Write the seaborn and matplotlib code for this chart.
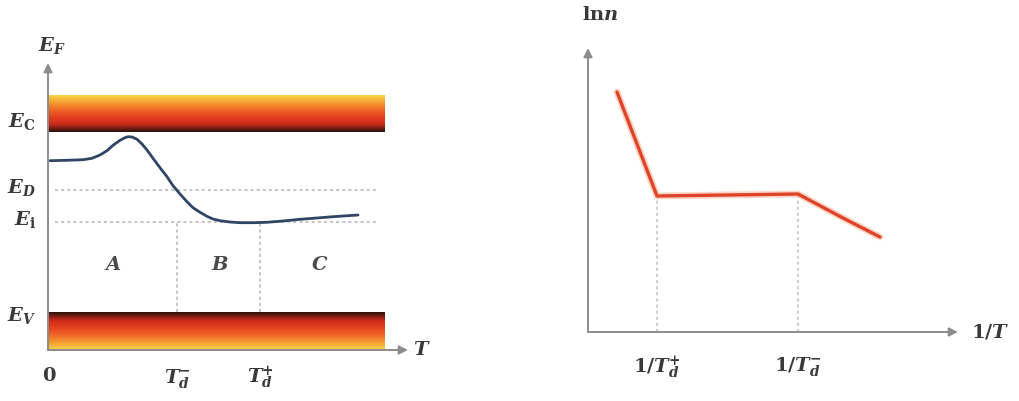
import numpy as np
import matplotlib.pyplot as plt
import seaborn as sns
from matplotlib.colors import LinearSegmentedColormap

# --- data (left: Fermi level vs T, right: ln n vs 1/T) ---
T_curve = [0.02, 0.19, 0.35, 0.44, 0.52, 0.59, 0.65, 0.72, 0.77, 0.80, 0.84, 0.89,
           0.94, 0.99, 1.05, 1.12, 1.19, 1.25, 1.32, 1.39, 1.45, 1.52, 1.59, 1.65,
           1.72, 1.82, 1.92, 2.05, 2.19, 2.35, 2.52, 2.69, 2.85, 3.10]
EF_curve = [1.893, 1.897, 1.903, 1.917, 1.950, 1.993, 2.047, 2.097, 2.123, 2.133,
            2.130, 2.107, 2.060, 2.000, 1.917, 1.823, 1.733, 1.643, 1.560, 1.483,
            1.423, 1.377, 1.337, 1.310, 1.293, 1.280, 1.273, 1.273, 1.277, 1.290,
            1.307, 1.320, 1.333, 1.350]
E_levels = {'E_C': 2.18, 'E_D': 1.60, 'E_i': 1.28, 'E_V': 0.38}
band_top = 2.55
band_bottom = 0.0
band_right = 3.37
T_marks = [1.29, 2.12]          # T_d^-, T_d^+
region_x = [0.65, 1.72, 2.72]
region_names = ['A', 'B', 'C']

invT = [0.29, 0.69, 2.10, 2.55, 2.92]
lnn = [2.40, 1.36, 1.38, 1.14, 0.95]
invT_marks = [0.69, 2.10]       # 1/T_d^+, 1/T_d^-

GREY = '#8c8c8c'
TXT = '#3a3a3a'

sns.set_theme(style='white')
plt.rcParams['mathtext.fontset'] = 'dejavuserif'
plt.rcParams['font.family'] = ['DejaVu Serif']

fig = plt.figure(figsize=(10.19, 4.01), dpi=100)
ax1 = fig.add_axes([0, 0, 440 / 1019, 1])
ax2 = fig.add_axes([440 / 1019, 0, 1 - 440 / 1019, 1])

# band gradients: dark edge next to the gap, yellow at the outer edge
cb_cmap = LinearSegmentedColormap.from_list('cb', [
    (0.00, '#2a140c'), (0.10, '#7a1c12'), (0.22, '#cf2c1b'), (0.42, '#e5421e'),
    (0.62, '#f06a28'), (0.82, '#f5a232'), (1.00, '#f8d648')])
grad = np.linspace(0, 1, 120).reshape(-1, 1)
ax1.imshow(grad, extent=[0, band_right, E_levels['E_C'], band_top], origin='lower',
           aspect='auto', cmap=cb_cmap, zorder=1)
ax1.imshow(grad, extent=[0, band_right, band_bottom, E_levels['E_V']], origin='upper',
           aspect='auto', cmap=cb_cmap, zorder=1)

# dotted reference levels
for key in ['E_D', 'E_i']:
    ax1.plot([0.07, 3.30], [E_levels[key]] * 2, color='#b4b4b4', lw=1.1,
             ls=(0, (2, 2)), zorder=2)
for xm in T_marks:
    ax1.plot([xm, xm], [E_levels['E_V'], E_levels['E_i']], color='#b4b4b4', lw=1.1,
             ls=(0, (2, 2)), zorder=2)

sns.lineplot(x=T_curve, y=EF_curve, ax=ax1, color='#2f4566', lw=2.0, zorder=3)

# axes arrows
arrow = dict(arrowstyle='-|>', color=GREY, lw=1.4, mutation_scale=13,
             shrinkA=0, shrinkB=0)
ax1.annotate('', xy=(0, 2.87), xytext=(0, 0), arrowprops=arrow)
ax1.annotate('', xy=(3.60, 0), xytext=(0, 0), arrowprops=arrow)

fs = 14
ax1.text(0.04, 3.05, r'$\mathbfit{E}_{\mathbfit{F}}$', fontsize=fs, color=TXT,
         ha='center', va='center')
labels = {'E_C': r'$\mathbfit{E}_{\mathbf{C}}$', 'E_D': r'$\mathbfit{E}_{\mathbfit{D}}$',
          'E_i': r'$\mathbfit{E}_{\mathbf{i}}$', 'E_V': r'$\mathbfit{E}_{\mathbfit{V}}$'}
offsets = {'E_C': 0.10, 'E_D': 0.03, 'E_i': 0.02, 'E_V': -0.03}
for key, lab in labels.items():
    ax1.text(-0.12, E_levels[key] + offsets[key], lab, fontsize=fs, color=TXT,
             ha='right', va='center')
for xr, nm in zip(region_x, region_names):
    ax1.text(xr, 0.85, r'$\mathbfit{%s}$' % nm, fontsize=fs, color='#4a4a4a',
             ha='center', va='center')
ax1.text(0.01, -0.26, r'$\mathbf{0}$', fontsize=fs, color=TXT, ha='center', va='center')
ax1.text(T_marks[0], -0.28, r'$\mathbfit{T}_{\mathbfit{d}}^{\mathbf{-}}$', fontsize=fs,
         color=TXT, ha='center', va='center')
ax1.text(T_marks[1], -0.28, r'$\mathbfit{T}_{\mathbfit{d}}^{\mathbf{+}}$', fontsize=fs,
         color=TXT, ha='center', va='center')
ax1.text(3.74, 0.0, r'$\mathbfit{T}$', fontsize=fs, color=TXT, ha='center', va='center')

ax1.set_xlim(-0.48, 3.92)
ax1.set_ylim(-0.51, 3.50)
ax1.axis('off')

# right panel
for xm, ym in zip(invT_marks, [lnn[1], lnn[2]]):
    ax2.plot([xm, xm], [0, ym], color='#c0c0c0', lw=1.1, ls=(0, (2, 2)), zorder=2)
sns.lineplot(x=invT, y=lnn, ax=ax2, color='#f4b08a', lw=5, alpha=0.5, zorder=3)
sns.lineplot(x=invT, y=lnn, ax=ax2, color='#e0432b', lw=2.4, zorder=4)

ax2.annotate('', xy=(0, 2.84), xytext=(0, 0), arrowprops=arrow)
ax2.annotate('', xy=(3.70, 0), xytext=(0, 0), arrowprops=arrow)
ax2.text(0.12, 3.17, r'$\mathbf{ln}\mathbfit{n}$', fontsize=fs, color=TXT,
         ha='center', va='center')
ax2.text(4.02, 0.0, r'$\mathbf{1/}\mathbfit{T}$', fontsize=fs, color=TXT,
         ha='center', va='center')
ax2.text(invT_marks[0], -0.36, r'$\mathbf{1/}\mathbfit{T}_{\mathbfit{d}}^{\mathbf{+}}$',
         fontsize=fs, color=TXT, ha='center', va='center')
ax2.text(invT_marks[1], -0.34, r'$\mathbf{1/}\mathbfit{T}_{\mathbfit{d}}^{\mathbf{-}}$',
         fontsize=fs, color=TXT, ha='center', va='center')

ax2.set_xlim(-1.48, 4.31)
ax2.set_ylim(-0.69, 3.32)
ax2.axis('off')

fig.savefig('out.png', dpi=100)
plt.close(fig)
